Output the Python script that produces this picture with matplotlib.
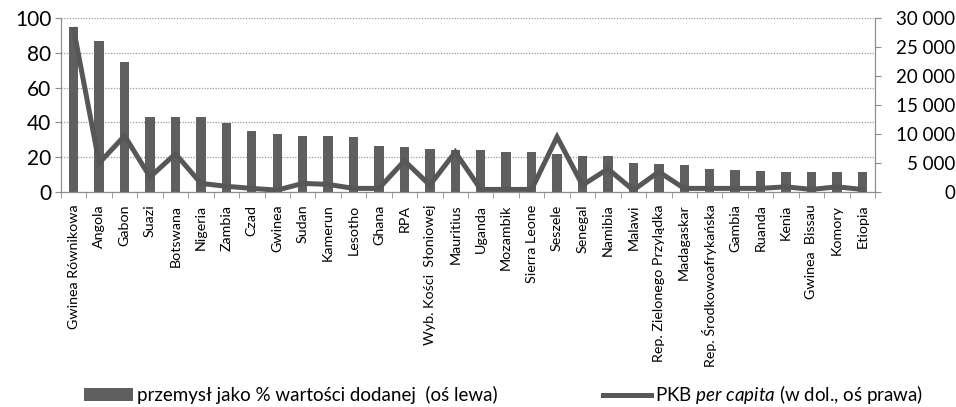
import numpy as np
import matplotlib
matplotlib.use("Agg")
import matplotlib.pyplot as plt
from matplotlib.ticker import FixedLocator, FuncFormatter

#------------------------------------------- Data -------------------------------------#
kraje = ["Gwinea Równikowa", "Angola", "Gabon", "Suazi", "Botswana", "Nigeria",
         "Zambia", "Czad", "Gwinea", "Sudan", "Kamerun", "Lesotho", "Ghana", "RPA",
         "Wyb. Kości  Słoniowej", "Mauritius", "Uganda", "Mozambik", "Sierra Leone",
         "Seszele", "Senegal", "Namibia", "Malawi", "Rep. Zielonego Przylądka",
         "Madagaskar", "Rep. Środkowoafrykańska", "Gambia", "Ruanda", "Kenia",
         "Gwinea  Bissau", "Komory", "Etiopia"]

przemysl = [95, 86.5, 74.5, 43.3, 43.3, 43.3, 39.8, 35, 33.4, 32, 32, 31.5, 26.3,
            26.1, 24.9, 24.3, 23.9, 22.8, 22.8, 22, 21, 20.5, 17, 16.2, 15.6, 13.3,
            12.8, 12.2, 11.6, 11.6, 11.6, 11.6]

pkb = [28000, 5000, 9700, 2600, 6600, 1500, 1000, 640, 340, 1500, 1330, 640, 640,
       5400, 1200, 6900, 460, 460, 460, 9500, 1200, 4000, 340, 3500, 640, 640, 640,
       640, 910, 460, 910, 460]

lewa_ticks = [0, 20, 40, 60, 80, 100]
prawa_ticks = [0, 5000, 10000, 15000, 20000, 25000, 30000]

#------------------------------------------- Style ------------------------------------#
plt.rcParams["font.family"] = ["Lato", "DejaVu Sans"]
plt.rcParams["mathtext.fontset"] = "custom"
plt.rcParams["mathtext.rm"] = "Lato"
plt.rcParams["mathtext.it"] = "Lato:italic"

szary = "#5f5f5f"
os_kolor = "#8c8c8c"

#--------------------------------------------- Plot -----------------------------------#
fig = plt.figure(figsize=(9.56, 4.07), dpi=100)
ax = fig.add_axes([0.0638, 0.528, 0.8515, 0.4278])
ax2 = ax.twinx()

x = np.arange(len(kraje))
bary = ax.bar(x, przemysl, width=0.37, color=szary, zorder=2,
              label="przemysł jako % wartości dodanej  (oś lewa)")
linia, = ax2.plot(x, pkb, color="#575757", lw=3.6, solid_joinstyle="miter",
                  label=r"PKB $\it{per\ capita}$ (w dol., oś prawa)")

ax.set_xlim(-0.5, len(kraje) - 0.5)
ax.set_ylim(0, 100)
ax2.set_ylim(0, 30000)

ax.set_yticks(lewa_ticks)
ax.yaxis.grid(True, ls=(0, (1, 1.2)), color="#9a9a9a", lw=0.9, zorder=0)
ax.set_axisbelow(True)
ax2.set_yticks(prawa_ticks)
ax2.yaxis.set_major_formatter(FuncFormatter(lambda v, p: f"{int(v):,}".replace(",", " ")))

ax.set_xticks(x)
ax.set_xticklabels(kraje, rotation=90, fontsize=10.3, va="top")
ax.tick_params(axis="x", which="major", length=0, pad=9)
ax.xaxis.set_minor_locator(FixedLocator(np.arange(-0.5, len(kraje), 1)))
ax.tick_params(axis="x", which="minor", length=4, color=os_kolor, direction="out")

ax.tick_params(axis="y", labelsize=15, length=4, color=os_kolor, pad=3)
ax2.tick_params(axis="y", labelsize=13.5, length=4, color=os_kolor, pad=54)
for t in ax2.get_yticklabels():
    t.set_horizontalalignment("right")

for a in (ax, ax2):
    a.spines["top"].set_visible(False)
    for s in ("left", "right", "bottom"):
        a.spines[s].set_color(os_kolor)

fig.legend(handles=[bary, linia], loc="center", bbox_to_anchor=(0.527, 0.03), ncol=2,
           frameon=False, handlelength=2.6, handletextpad=0.2, columnspacing=5.6,
           prop={"family": ["Lato", "DejaVu Sans"], "size": 13.5})

fig.savefig("out.png", dpi=100)
